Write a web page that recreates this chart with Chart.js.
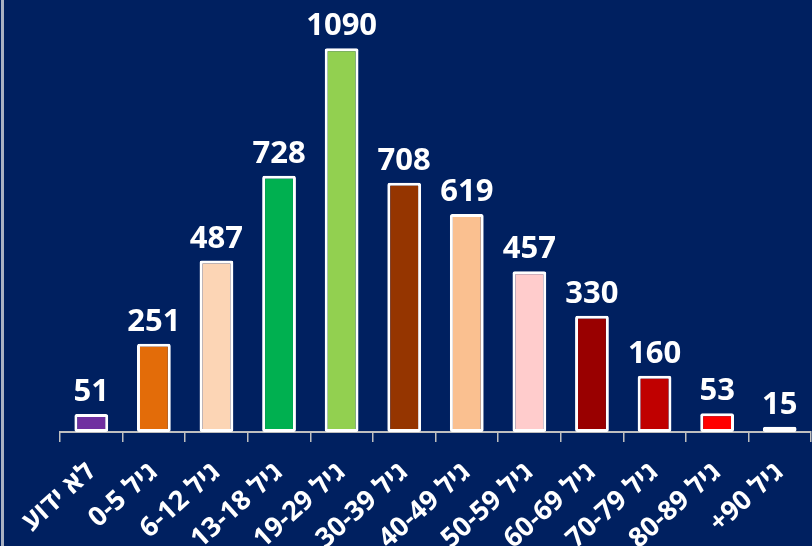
<!DOCTYPE html>
<html>
<head>
<meta charset="utf-8">
<script src="https://cdn.jsdelivr.net/npm/chart.js@4"></script>
<style>
  html, body { margin: 0; padding: 0; background: #002060; }
  #wrap { position: relative; width: 812px; height: 546px; overflow: hidden; }
  #frame { position: absolute; left: 1px; top: 0; width: 3px; height: 546px; background: #a9b1c2; }
  canvas { direction: rtl; }
</style>
</head>
<body>
<div id="wrap">
  <canvas id="chart" width="812" height="546" dir="rtl"></canvas>
  <div id="frame"></div>
</div>
<script>
// קטגוריות גיל
const categories = ['לא ידוע', 'גיל 0-5', 'גיל 6-12', 'גיל 13-18', 'גיל 19-29', 'גיל 30-39',
                    'גיל 40-49', 'גיל 50-59', 'גיל 60-69', 'גיל 70-79', 'גיל 80-89', 'גיל 90+'];
// מספר מקרים לכל קבוצה
const values = [51, 251, 487, 728, 1090, 708, 619, 457, 330, 160, 53, 15];
// צבע לכל עמודה
const barColors = ['#7030a0', '#e36c09', '#fcd5b5', '#00b050', '#92d050', '#953500',
                   '#fac090', '#ffcccc', '#990000', '#c00000', '#ff0000', '#ff99cc'];

const fontFamily = '"Open Sans", "DejaVu Sans", sans-serif';

// תוויות ערך מעל העמודות
const valueLabels = {
    id: 'valueLabels',
    afterDatasetsDraw(chart) {
        const ctx = chart.ctx;
        const meta = chart.getDatasetMeta(0);
        ctx.save();
        ctx.fillStyle = '#ffffff';
        ctx.font = 'bold 31px ' + fontFamily;
        ctx.textAlign = 'center';
        ctx.textBaseline = 'alphabetic';
        meta.data.forEach((bar, i) => {
            ctx.fillText(String(values[i]), bar.x, bar.y - 13);
        });
        ctx.restore();
    }
};

new Chart(document.getElementById('chart'), {
    type: 'bar',
    data: {
        labels: categories,
        datasets: [{
            data: values,
            backgroundColor: barColors,
            borderColor: '#ffffff',
            borderWidth: 3,
            borderRadius: 2,
            borderSkipped: false,
            categoryPercentage: 1,
            barPercentage: 0.54
        }]
    },
    options: {
        responsive: false,
        animation: false,
        layout: { padding: { left: 60, right: 1, top: 9.6, bottom: 0 } },
        plugins: {
            legend: { display: false },
            tooltip: { enabled: false }
        },
        scales: {
            x: {
                offset: true,
                grid: {
                    display: true,
                    drawOnChartArea: false,
                    drawTicks: true,
                    tickLength: 10,
                    color: '#bfbfbf',
                    lineWidth: 1.5
                },
                border: { display: true, color: '#bfbfbf', width: 2 },
                ticks: {
                    color: '#ffffff',
                    font: { family: fontFamily, size: 27, weight: 'bold' },
                    minRotation: 42,
                    maxRotation: 42,
                    autoSkip: false,
                    padding: 14
                },
                afterFit(axis) {
                    axis.height = 114;
                    axis.paddingLeft = 0;
                    axis.paddingRight = 0;
                }
            },
            y: {
                display: false,
                min: 0,
                max: 1200
            }
        }
    },
    plugins: [valueLabels]
});
</script>
</body>
</html>
